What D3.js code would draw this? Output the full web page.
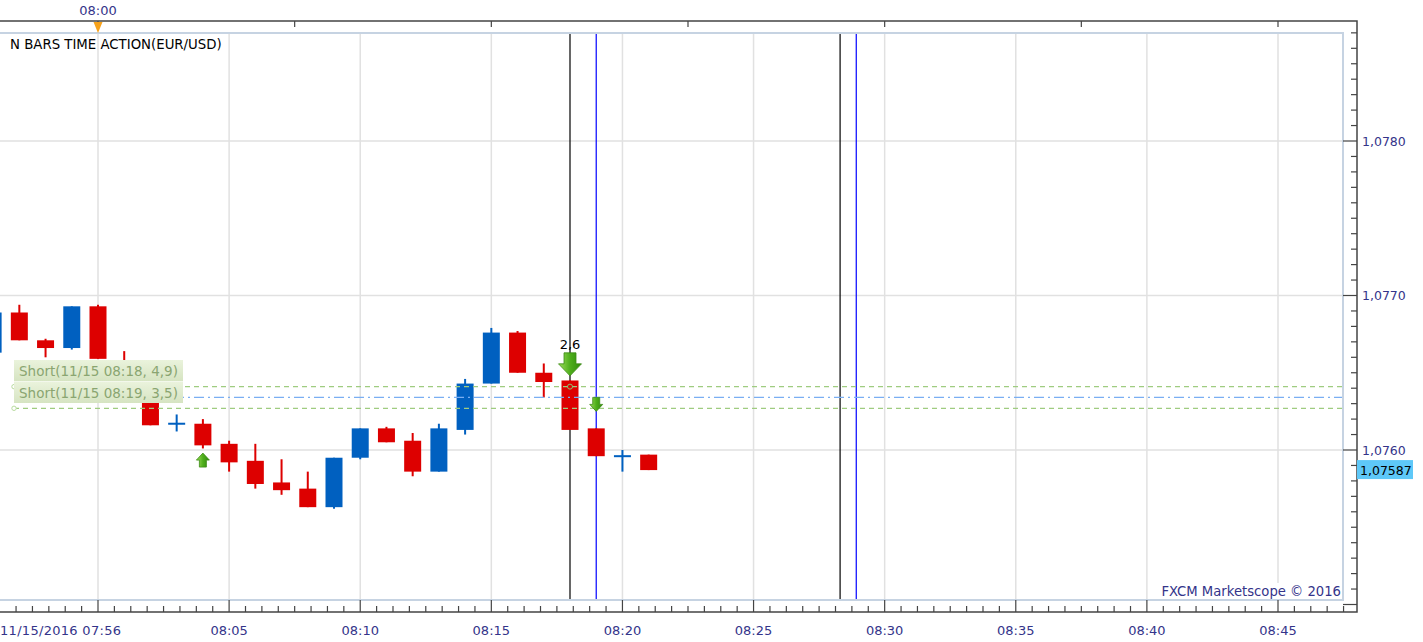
<!DOCTYPE html>
<html lang="en">
<head>
<meta charset="UTF-8">
<title>N Bars Time Action (EUR/USD)</title>
<style>
    body {
        margin: 0;
        background: #fff;
    }
    svg text {
        font-family: "DejaVu Sans", Verdana, sans-serif;
    }
    .axis-label {
        font-size: 13px;
        fill: #34348a;
    }
    .grid {
        stroke: #e1e1e1;
        stroke-width: 1.5px;
    }
    .frame {
        stroke: #444;
        stroke-width: 1.5px;
        fill: none;
    }
</style>
</head>
<body>
<div id="chart"></div>
<script src="https://cdn.jsdelivr.net/npm/d3@7"></script>
<script>

    // one bar per minute, 11/15/2016
    var times = ["07:56", "07:57", "07:58", "07:59", "08:00", "08:01", "08:02", "08:03", "08:04",
        "08:05", "08:06", "08:07", "08:08", "08:09", "08:10", "08:11", "08:12", "08:13", "08:14",
        "08:15", "08:16", "08:17", "08:18", "08:19", "08:20", "08:21"]
    var opens = [1.07663, 1.07689, 1.07671, 1.07666, 1.07693, 1.07657, 1.07636, 1.07617, 1.07617,
        1.07604, 1.07593, 1.07579, 1.07575, 1.07563, 1.07595, 1.07614, 1.07606, 1.07586, 1.07613,
        1.07643, 1.07676, 1.07650, 1.07645, 1.07614, 1.07596, 1.07597]
    var highs = [1.07690, 1.07694, 1.07672, 1.07693, 1.07694, 1.07664, 1.07636, 1.07623, 1.07620,
        1.07606, 1.07604, 1.07594, 1.07586, 1.07595, 1.07614, 1.07615, 1.07611, 1.07617, 1.07646,
        1.07679, 1.07677, 1.07656, 1.07645, 1.07614, 1.07600, 1.07597]
    var lows = [1.07662, 1.07671, 1.07660, 1.07665, 1.07659, 1.07634, 1.07616, 1.07612, 1.07601,
        1.07586, 1.07575, 1.07571, 1.07563, 1.07562, 1.07594, 1.07605, 1.07583, 1.07586, 1.07610,
        1.07643, 1.07650, 1.07634, 1.07613, 1.07596, 1.07586, 1.07587]
    var closes = [1.07689, 1.07671, 1.07666, 1.07693, 1.07659, 1.07636, 1.07616, 1.07617, 1.07603,
        1.07592, 1.07578, 1.07574, 1.07563, 1.07595, 1.07614, 1.07605, 1.07586, 1.07614, 1.07643,
        1.07676, 1.07650, 1.07644, 1.07613, 1.07596, 1.07596, 1.07587]

    var priceTicks = [1.0760, 1.0770, 1.0780]
    var lastPrice = 1.07587

    // open short positions
    var tradeLabels = ["Short(11/15 08:18, 4,9)", "Short(11/15 08:19, 3,5)"]
    var tradeLevels = [1.07641, 1.07627]
    var avgLevel = 1.07634

    // signal arrows
    var signalTimes = ["08:04", "08:18", "08:19"]
    var signalPrices = [1.07598, 1.07648, 1.07625]
    var signalDirs = ["up", "down", "down"]
    var signalBig = [false, true, false]
    var signalText = ["", "2,6", ""]

    var blackLines = ["08:18:00", "08:28:18"]
    var blueLines = ["08:19:00", "08:28:55"]

    var width = 1423, height = 642
    var plot = {left: 0, top: 33, right: 1343, bottom: 600}
    var axisX = 1357, axisTop = 21, axisBottom = 612

    function t(s) {
        var p = s.split(":")
        return new Date(2016, 10, 15, +p[0], +p[1], p[2] ? +p[2] : 0)
    }
    function fmtPrice(v, n) {
        return v.toFixed(n).replace(".", ",")
    }

    var x = d3.scaleTime().domain([t("08:00"), t("08:45")]).range([98, 1278])
    var y = d3.scaleLinear().domain([1.0760, 1.0780]).range([450, 141])

    var svg = d3.select("#chart").append("svg")
        .attr("width", width)
        .attr("height", height)

    var defs = svg.append("defs")
    defs.append("clipPath").attr("id", "clip")
        .append("rect")
        .attr("x", plot.left).attr("y", plot.top)
        .attr("width", plot.right - plot.left).attr("height", plot.bottom - plot.top)

    var ag = defs.append("linearGradient").attr("id", "arrowGrad")
        .attr("x1", 0).attr("x2", 1).attr("y1", 0).attr("y2", 0)
    ag.append("stop").attr("offset", "0%").attr("stop-color", "#9ede5a")
    ag.append("stop").attr("offset", "50%").attr("stop-color", "#4fae1c")
    ag.append("stop").attr("offset", "100%").attr("stop-color", "#2f8a0c")

    var lg = defs.append("linearGradient").attr("id", "labelGrad")
        .attr("x1", 0).attr("x2", 0).attr("y1", 0).attr("y2", 1)
    lg.append("stop").attr("offset", "0%").attr("stop-color", "#eaf3dc")
    lg.append("stop").attr("offset", "100%").attr("stop-color", "#d6e4c2")

    // grid
    var grid = svg.append("g").attr("clip-path", "url(#clip)")
    var fiveMin = d3.timeMinute.every(5).range(t("07:50"), t("08:50"))
    grid.selectAll(".vgrid").data(fiveMin).enter().append("line")
        .attr("class", "grid")
        .attr("x1", function (d) { return x(d) }).attr("x2", function (d) { return x(d) })
        .attr("y1", plot.top).attr("y2", plot.bottom)
    grid.selectAll(".hgrid").data(priceTicks).enter().append("line")
        .attr("class", "grid")
        .attr("x1", plot.left).attr("x2", plot.right)
        .attr("y1", function (d) { return y(d) }).attr("y2", function (d) { return y(d) })

    // vertical markers
    grid.selectAll(".vblack").data(blackLines).enter().append("line")
        .attr("x1", function (d) { return x(t(d)) }).attr("x2", function (d) { return x(t(d)) })
        .attr("y1", plot.top).attr("y2", plot.bottom)
        .attr("stroke", "#000").attr("stroke-width", 1.2)
    grid.selectAll(".vblue").data(blueLines).enter().append("line")
        .attr("x1", function (d) { return x(t(d)) }).attr("x2", function (d) { return x(t(d)) })
        .attr("y1", plot.top).attr("y2", plot.bottom)
        .attr("stroke", "#0000ff").attr("stroke-width", 1.2)

    // candles
    var bars = times.map(function (s, i) {
        return {time: t(s), o: opens[i], h: highs[i], l: lows[i], c: closes[i]}
    })
    var cw = 17
    var candles = grid.selectAll(".candle").data(bars).enter().append("g")
        .attr("transform", function (d) { return "translate(" + x(d.time) + ",0)" })
    candles.each(function (d) {
        var g = d3.select(this)
        var col = d.c >= d.o ? "#0060c0" : "#dd0000"
        g.append("rect")
            .attr("x", -1).attr("width", 2)
            .attr("y", y(d.h)).attr("height", Math.max(1, y(d.l) - y(d.h)))
            .attr("fill", col)
        if (d.c === d.o) {
            g.append("rect")
                .attr("x", -cw / 2).attr("width", cw)
                .attr("y", y(d.o) - 1).attr("height", 2)
                .attr("fill", col)
        } else {
            g.append("rect")
                .attr("x", -cw / 2).attr("width", cw)
                .attr("y", y(Math.max(d.o, d.c)))
                .attr("height", Math.abs(y(d.o) - y(d.c)))
                .attr("fill", col)
        }
    })

    // trade levels
    grid.selectAll(".trade").data(tradeLevels).enter().append("line")
        .attr("x1", 14).attr("x2", plot.right)
        .attr("y1", function (d) { return y(d) }).attr("y2", function (d) { return y(d) })
        .attr("stroke", "#9fcc80").attr("stroke-width", 1.3)
        .attr("stroke-dasharray", "5,4")
    grid.selectAll(".tradeDot").data(tradeLevels).enter().append("circle")
        .attr("cx", 14).attr("cy", function (d) { return y(d) }).attr("r", 2.2)
        .attr("fill", "#fff").attr("stroke", "#b9dba0")
    grid.append("circle")
        .attr("cx", x(t("08:18"))).attr("cy", y(tradeLevels[0])).attr("r", 2.5)
        .attr("fill", "none").attr("stroke", "#8fbf70")
    grid.append("line")
        .attr("x1", 14).attr("x2", plot.right)
        .attr("y1", y(avgLevel)).attr("y2", y(avgLevel))
        .attr("stroke", "#7aaef2").attr("stroke-width", 1.3)
        .attr("stroke-dasharray", "10,4,2,4")

    // trade labels
    grid.append("rect")
        .attr("x", 14).attr("y", 360).attr("width", 169).attr("height", 43)
        .attr("fill", "#f3f8ec")
    var lab = grid.selectAll(".tlabel").data(tradeLabels).enter().append("g")
        .attr("transform", function (d, i) { return "translate(14," + (360 + i * 22) + ")" })
    lab.append("rect")
        .attr("width", 169).attr("height", 21)
        .attr("fill", "url(#labelGrad)")
    lab.append("text")
        .attr("x", 5).attr("y", 15.5)
        .attr("font-size", "13.5px")
        .attr("fill", "#8aa571")
        .text(function (d) { return d })

    // arrows
    function arrowPath(big, dir) {
        var w1 = big ? 6 : 3.5, w2 = big ? 11.5 : 6.5, hh = big ? 12 : 7, H = big ? 23 : 14
        var s = dir === "down" ? -1 : 1
        // tip at 0,0
        return "M0,0 L" + w2 + "," + (s * hh) + " L" + w1 + "," + (s * hh) + " L" + w1 + "," + (s * H) +
            " L" + (-w1) + "," + (s * H) + " L" + (-w1) + "," + (s * hh) + " L" + (-w2) + "," + (s * hh) + " Z"
    }
    signalTimes.forEach(function (s, i) {
        var g = grid.append("g")
            .attr("transform", "translate(" + x(t(s)) + "," + y(signalPrices[i]) + ")")
        g.append("path")
            .attr("d", arrowPath(signalBig[i], signalDirs[i]))
            .attr("fill", "url(#arrowGrad)")
            .attr("stroke", "#3b8a14").attr("stroke-width", 0.8)
        if (signalText[i]) {
            g.append("text")
                .attr("y", -27)
                .attr("text-anchor", "middle")
                .attr("font-size", "13px")
                .attr("fill", "#000")
                .text(signalText[i])
        }
    })

    // title
    svg.append("text")
        .attr("x", 10).attr("y", 49)
        .attr("font-size", "13.3px")
        .attr("fill", "#000")
        .text("N BARS TIME ACTION(EUR/USD)")

    // watermark
    svg.append("rect")
        .attr("x", 1156).attr("y", 583).attr("width", plot.right - 1156).attr("height", plot.bottom - 583)
        .attr("fill", "#fff")
    svg.append("text")
        .attr("x", 1341).attr("y", 596)
        .attr("text-anchor", "end")
        .attr("class", "axis-label")
        .style("font-size", "13.2px")
        .text("FXCM Marketscope \u00a9 2016")

    // plot border
    svg.append("rect")
        .attr("x", plot.left - 1).attr("y", plot.top)
        .attr("width", plot.right - plot.left + 1).attr("height", plot.bottom - plot.top)
        .attr("fill", "none").attr("stroke", "#c6d3e2").attr("stroke-width", 2)

    // outer axes frame
    svg.append("path")
        .attr("class", "frame")
        .attr("d", "M0," + axisTop + " H" + axisX + " V" + axisBottom + " H0")

    // bottom axis ticks
    var minor = d3.range(0, 8 * 12).map(function (i) {
        return new Date(t("07:50").getTime() + i * 37500)
    })
    svg.append("g").selectAll("line").data(minor).enter().append("line")
        .filter(function (d) { return x(d) >= 0 && x(d) <= axisX })
        .attr("x1", function (d) { return x(d) }).attr("x2", function (d) { return x(d) })
        .attr("y1", function (d, i) { return d.getTime() % 300000 === 0 ? plot.bottom : axisBottom - 6 })
        .attr("y2", axisBottom)
        .attr("stroke", "#444").attr("stroke-width", 1.2)
    svg.append("g").selectAll("text").data(fiveMin.filter(function (d) {
        return x(d) > 150 && x(d) < axisX
    })).enter().append("text")
        .attr("class", "axis-label")
        .attr("x", function (d) { return x(d) })
        .attr("y", 635)
        .attr("text-anchor", "middle")
        .text(d3.timeFormat("%H:%M"))
    svg.append("text")
        .attr("class", "axis-label")
        .attr("x", 0).attr("y", 635)
        .style("letter-spacing", "0.3px")
        .text("11/15/2016 07:56")

    // top axis ticks
    var topTicks = d3.range(0, 10).map(function (i) {
        return new Date(t("07:52").getTime() + 30000 + i * 450000)
    })
    svg.append("g").selectAll("line").data(topTicks).enter().append("line")
        .filter(function (d) { return x(d) >= 0 && x(d) <= axisX })
        .attr("x1", function (d) { return x(d) }).attr("x2", function (d) { return x(d) })
        .attr("y1", axisTop).attr("y2", axisTop + 6)
        .attr("stroke", "#444").attr("stroke-width", 1.2)
    svg.append("path")
        .attr("d", "M" + (x(t("08:00")) - 4.5) + "," + (axisTop + 1) + " h9 l-4.5,11 Z")
        .attr("fill", "#f7a21b")
    svg.append("text")
        .attr("class", "axis-label")
        .attr("x", x(t("08:00"))).attr("y", 15)
        .attr("text-anchor", "middle")
        .text("08:00")

    // right axis ticks
    var yMinor = d3.range(10750, 10788).map(function (v) { return v / 10000 })
        .filter(function (v) { return y(v) > axisTop && y(v) < axisBottom })
    svg.append("g").selectAll("line").data(yMinor).enter().append("line")
        .attr("x1", function (d) { return Math.round(d * 10000) % 10 === 0 ? plot.right : axisX - 6 })
        .attr("x2", axisX)
        .attr("y1", function (d) { return y(d) }).attr("y2", function (d) { return y(d) })
        .attr("stroke", "#444").attr("stroke-width", 1.2)
    svg.append("g").selectAll("text").data(priceTicks).enter().append("text")
        .attr("class", "axis-label")
        .style("font-size", "12.5px")
        .attr("x", 1362)
        .attr("y", function (d) { return y(d) + 4.5 })
        .text(function (d) { return fmtPrice(d, 4) })

    // last price tag
    svg.append("rect")
        .attr("x", axisX).attr("y", y(lastPrice) - 10)
        .attr("width", 56).attr("height", 19)
        .attr("fill", "#5ec8f8")
    svg.append("text")
        .attr("x", 1360).attr("y", y(lastPrice) + 4.5)
        .attr("font-size", "12.5px")
        .attr("fill", "#000")
        .text(fmtPrice(lastPrice, 5))

</script>
</body>
</html>
